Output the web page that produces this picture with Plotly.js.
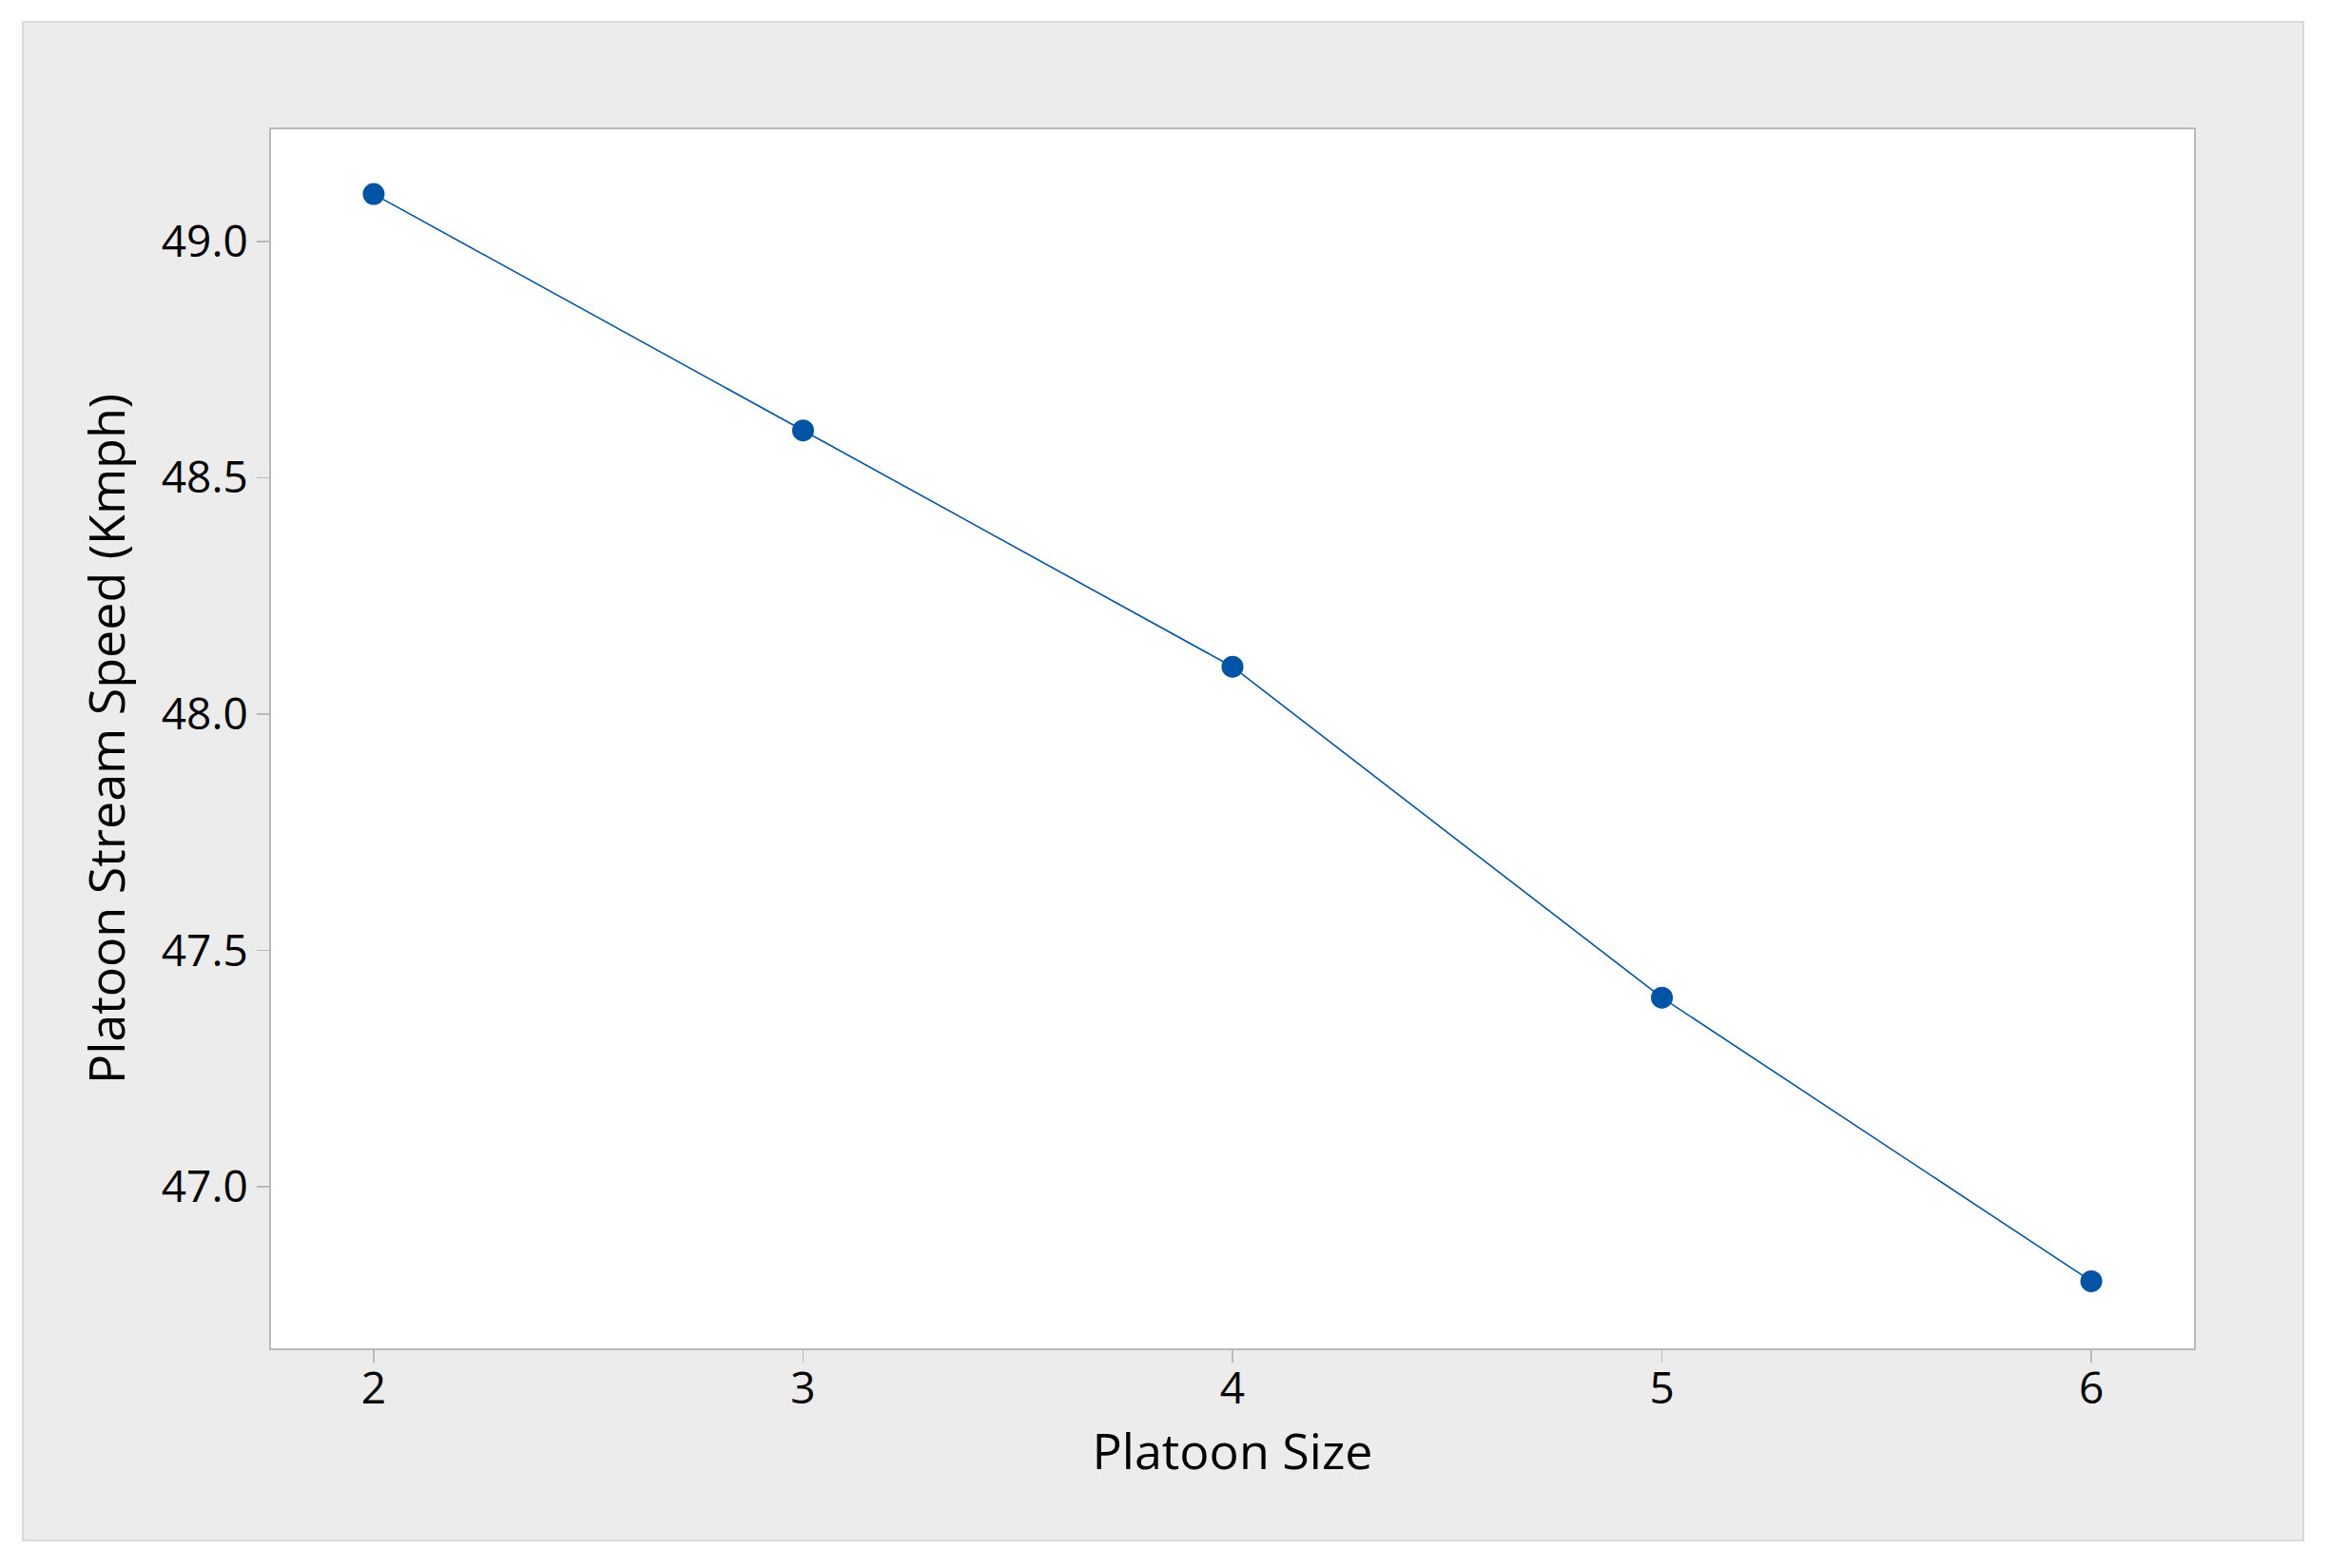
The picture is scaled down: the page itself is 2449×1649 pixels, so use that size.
<!DOCTYPE html>
<html>
<head>
<meta charset="utf-8">
<script src="https://cdn.plot.ly/plotly-3.0.1.min.js"></script>
<style>html,body{margin:0;padding:0;background:#fff;}#chart{width:2449px;height:1649px;}</style>
</head>
<body>
<div id="chart"></div>
<script>
const platoonSize = [2, 3, 4, 5, 6];
const streamSpeed = [49.1, 48.6, 48.1, 47.4, 46.8];
const yTickVals = [47.0, 47.5, 48.0, 48.5, 49.0];
const xTickVals = [2, 3, 4, 5, 6];

const W = 2449, H = 1649;
const m = {l: 285, r: 142, t: 136, b: 231};
const pw = W - m.l - m.r, ph = H - m.t - m.b;
const px = v => (v - m.l) / pw;
const py = v => (H - m.b - v) / ph;

const trace = {
  x: platoonSize, y: streamSpeed, type: 'scatter', mode: 'lines+markers',
  line: {color: '#0054A6', width: 1.6},
  marker: {color: '#0054A6', size: 23},
  hoverinfo: 'x+y'
};

const font = {family: '"Open Sans", "Noto Sans", sans-serif', color: '#000'};

const layout = {
  width: W, height: H,
  margin: m,
  paper_bgcolor: '#ffffff',
  plot_bgcolor: '#ffffff',
  showlegend: false,
  font: font,
  xaxis: {
    range: [1.761, 6.239], tickvals: xTickVals, ticktext: xTickVals.map(String),
    showgrid: false, zeroline: false,
    showline: true, mirror: true, linecolor: '#b9b9b9', linewidth: 2,
    ticks: 'outside', ticklen: 13, tickwidth: 1.5, tickcolor: '#b9b9b9',
    ticklabelstandoff: -12,
    tickfont: {family: font.family, size: 46, color: '#000'},
    title: {text: 'Platoon Size', font: {family: font.family, size: 52, color: '#000'}, standoff: 18}
  },
  yaxis: {
    range: [46.658, 49.237], tickvals: yTickVals, ticktext: yTickVals.map(v => v.toFixed(1)),
    showgrid: false, zeroline: false,
    showline: true, mirror: true, linecolor: '#b9b9b9', linewidth: 2,
    ticks: 'outside', ticklen: 13, tickwidth: 1.5, tickcolor: '#b9b9b9',
    tickfont: {family: font.family, size: 46, color: '#000'},
    title: {text: 'Platoon Stream Speed (Kmph)', font: {family: font.family, size: 52, color: '#000'}, standoff: 22}
  },
  shapes: [
    {type: 'rect', xref: 'paper', yref: 'paper', layer: 'below',
     x0: px(24), x1: px(2422), y0: py(1620), y1: py(23),
     fillcolor: '#ececec', line: {color: '#d9d9d9', width: 2}},
    {type: 'rect', xref: 'paper', yref: 'paper', layer: 'below',
     x0: 0, x1: 1, y0: 0, y1: 1,
     fillcolor: '#ffffff', line: {width: 0}}
  ]
};

Plotly.newPlot('chart', [trace], layout, {displayModeBar: false, staticPlot: true});
</script>
</body>
</html>
